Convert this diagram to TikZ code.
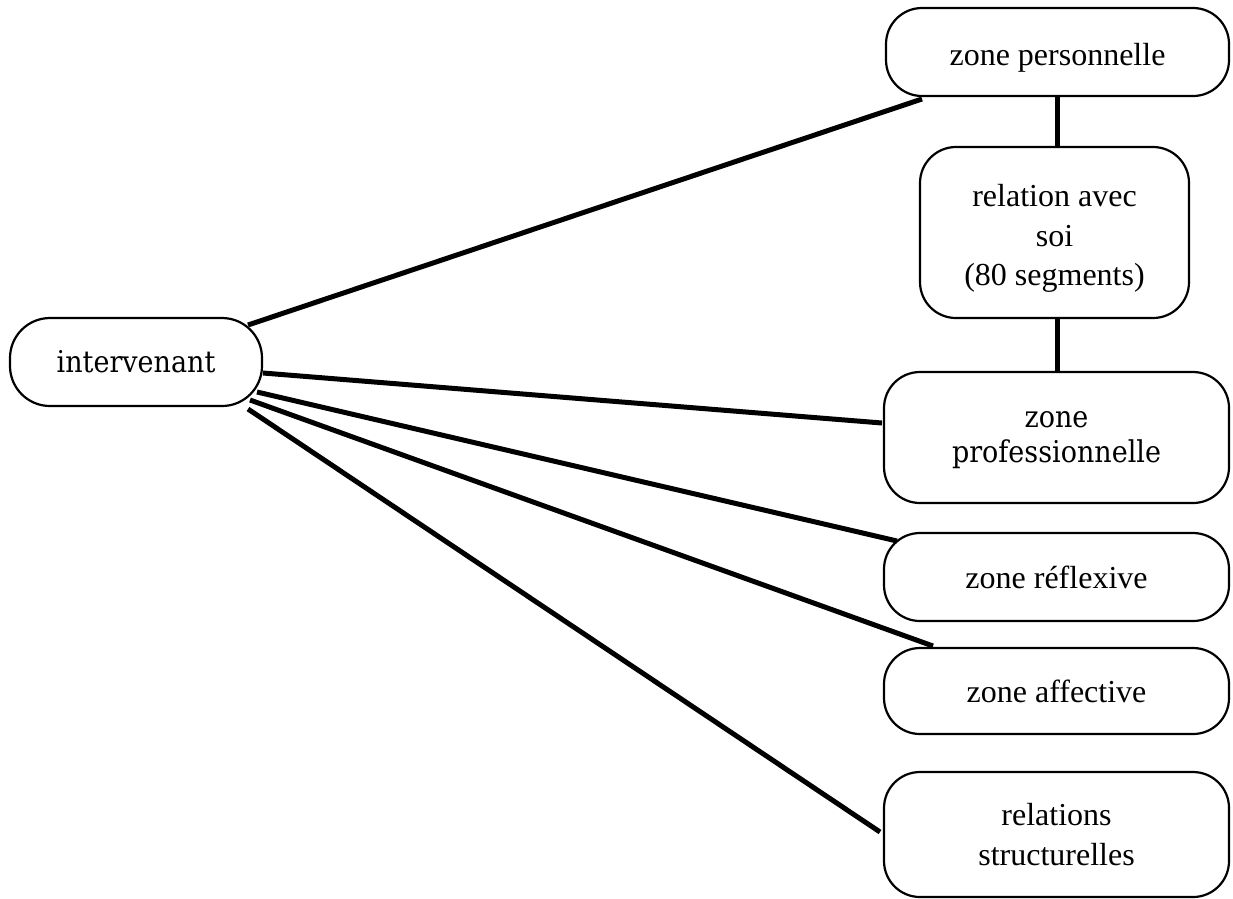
\documentclass[tikz,border=0pt]{standalone}
\usepackage{fontspec}
\setmainfont{Liberation Serif}
\newfontfamily\labelserif[FakeStretch=0.9]{DejaVu Serif}
\usetikzlibrary{calc}
% invisible strut that raises the top of the first line
\newcommand{\padabove}[1]{\rule{0pt}{#1}}

\begin{document}
\begin{tikzpicture}[x=1pt,y=-1pt,
  zonebox/.style={draw=black, line width=2.2pt, rounded corners=36pt, fill=white,
    inner sep=0pt, align=center,
    font=\fontsize{32}{39.5}\selectfont},
  altfont/.style={font=\labelserif\fontsize{30}{35}\selectfont},
  link/.style={draw=black, line width=5pt}]
  \useasboundingbox (0,0) rectangle (1233,898);

  % central node
  \node[zonebox, rounded corners=40pt, minimum width=252pt, minimum height=88pt,
        altfont]
    (interv) at (136,362) {intervenant};

  % zones on the right
  \node[zonebox, minimum width=343pt, minimum height=88pt, text height=26pt, text depth=0pt]
    (zp) at (1057.5,52) {zone personnelle};
  \node[zonebox, minimum width=269pt, minimum height=171pt] (ras) at (1054.5,232.5)
    {\padabove{34pt}relation avec\\soi\\(80 segments)};
  \node[zonebox, minimum width=345pt, minimum height=131pt, altfont] (zpro) at (1056.5,437.5)
    {\padabove{22pt}zone\\professionnelle};
  \node[zonebox, minimum width=345pt, minimum height=88pt] (zr) at (1056.5,577) {zone réflexive};
  \node[zonebox, minimum width=345pt, minimum height=86pt] (za) at (1056.5,691) {zone affective};
  \node[zonebox, minimum width=345pt, minimum height=125pt] (rs) at (1056.5,834.5)
    {relations\\structurelles};

  % vertical links in the right column
  \draw[link] (zp.south) -- (zp.south |- ras.north);
  \draw[link] (zp.south |- ras.south) -- (zp.south |- zpro.north);

  % links from the central node
  \draw[link] ($(interv.center)+(112,-37)$) -- ($(zp.center)+(-135.5,47)$);
  \draw[link] ($(interv.center)+(127,11)$) -- ($(zpro.center)+(-174.5,-14.5)$);
  \draw[link] ($(interv.center)+(121,30)$) -- ($(zr.center)+(-159.5,-36)$);
  \draw[link] ($(interv.center)+(114,38)$) -- ($(za.center)+(-123.5,-45)$);
  \draw[link] ($(interv.center)+(112,47)$) -- ($(rs.center)+(-176.5,-2.5)$);
\end{tikzpicture}
\end{document}
